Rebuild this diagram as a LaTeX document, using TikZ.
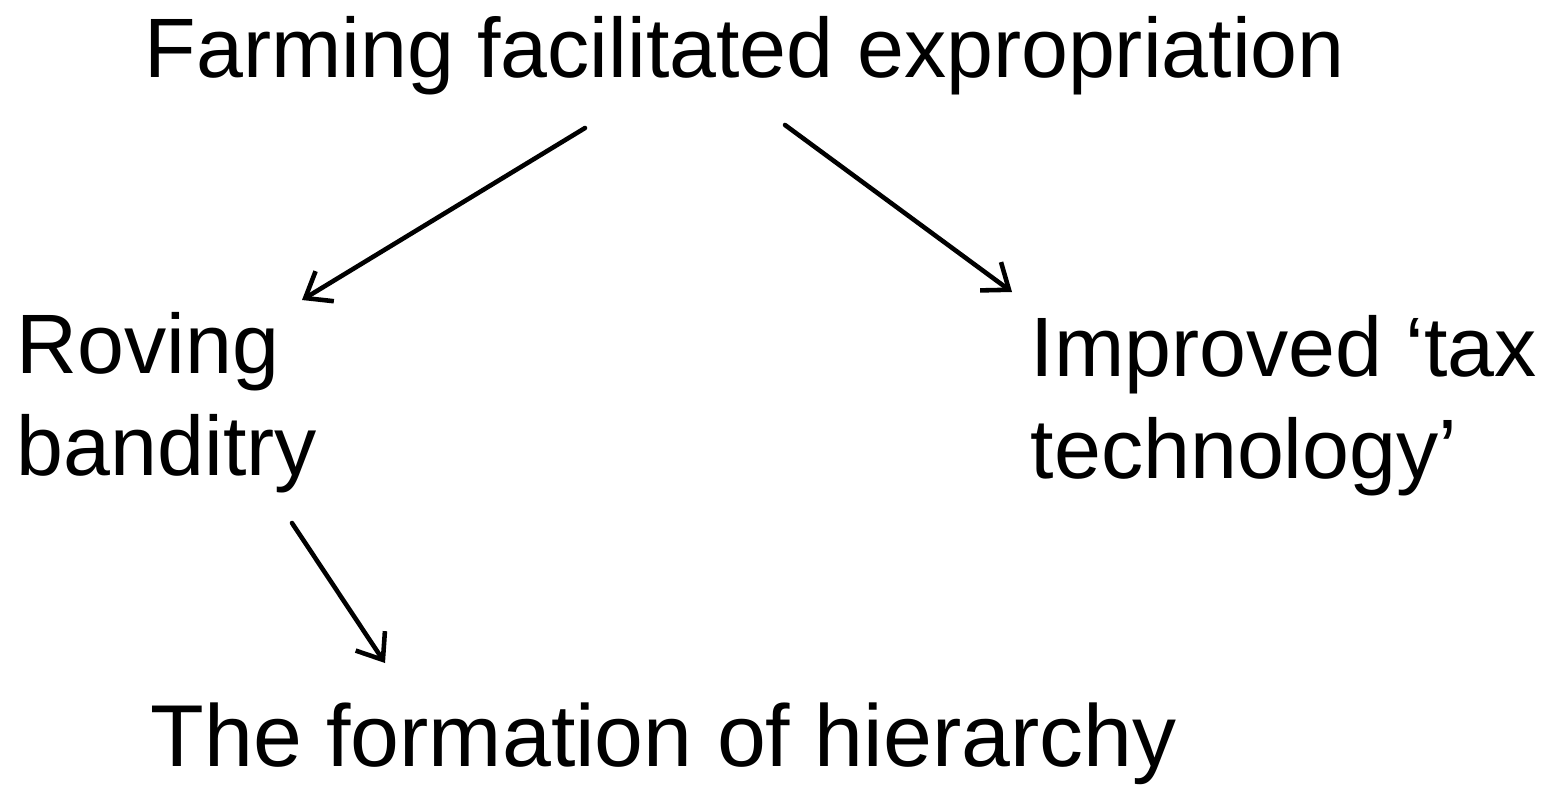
\documentclass[tikz,border=0pt]{standalone}
\usepackage{fontspec}
\setmainfont{Liberation Sans}
\usetikzlibrary{
  arrows.meta
}

\begin{document}
\begin{tikzpicture}[
  y=-1cm,
  every node/.style = {inner sep=0pt, align=left,
    font=\fontsize{24}{29}\selectfont},
  link/.style = {-{Straight Barb[length=6.5pt,width=10pt]},
    line width=1.3pt, line cap=round}]
  \useasboundingbox (0,0) rectangle (15.51,7.88);
  \node[anchor=base west] (farm) at (1.44,0.78) {Farming facilitated expropriation};
  \node[anchor=base west] (rove) at (0.16,4.75) {Roving\\banditry};
  \node[anchor=base west] (tax)  at (10.30,4.78) {Improved ‘tax\\technology’};
  \node[anchor=base west, font=\fontsize{25}{30}\selectfont] (hier) at (1.50,7.66) {The formation of hierarchy};
  % arrow ends
  \coordinate (farmL) at (5.85,1.28);
  \coordinate (farmR) at (7.85,1.25);
  \coordinate (roveT) at (3.02,3.00);
  \coordinate (taxT)  at (10.12,2.92);
  \coordinate (roveB) at (2.92,5.23);
  \coordinate (hierT) at (3.85,6.63);
  \draw[link] (farmL) -- (roveT);
  \draw[link] (farmR) -- (taxT);
  \draw[link] (roveB) -- (hierT);
\end{tikzpicture}
\end{document}
